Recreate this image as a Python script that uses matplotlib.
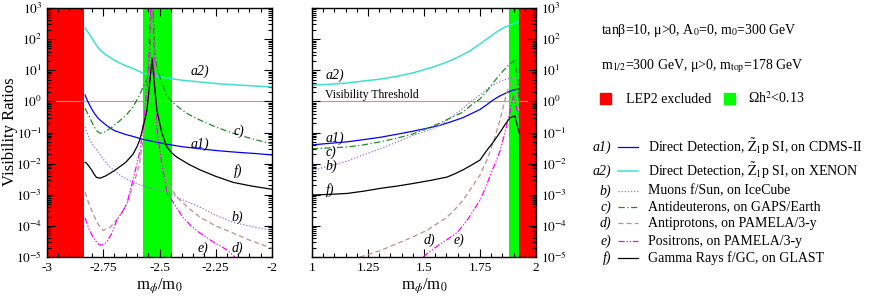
import numpy as np
import matplotlib
matplotlib.use("Agg")
import matplotlib.pyplot as plt
from matplotlib.ticker import FixedLocator, LogLocator, FuncFormatter, NullFormatter

plt.rcParams['font.family'] = ['Liberation Serif', 'DejaVu Serif']
plt.rcParams['mathtext.fontset'] = 'stix'
plt.rcParams['axes.unicode_minus'] = False

# ---- left panel data (m_phi/m_0 < 0) ----
a2_l_x = [-2.831, -2.82, -2.809, -2.798, -2.787, -2.775, -2.764, -2.74, -2.72, -2.70, -2.676, -2.65,
          -2.62, -2.573, -2.52, -2.467, -2.40, -2.32, -2.24, -2.15, -2.07, -2.0]
a2_l_y = [230, 175, 135, 100, 75, 57, 45, 32, 26, 21, 17, 14,
          11.5, 8.1, 6.6, 5.6, 4.8, 4.2, 3.7, 3.35, 3.1, 2.9]

a1_l_x = [-2.831, -2.82, -2.809, -2.798, -2.787, -2.775, -2.764, -2.74, -2.72, -2.70, -2.676, -2.65,
          -2.618, -2.573, -2.52, -2.467, -2.40, -2.32, -2.24, -2.15, -2.07, -2.0]
a1_l_y = [1.6, 1.05, 0.72, 0.52, 0.39, 0.3, 0.25, 0.18, 0.14, 0.115, 0.1, 0.086,
          0.075, 0.06, 0.05, 0.042, 0.035, 0.03, 0.026, 0.023, 0.021, 0.019]

b_l_x = [-2.831, -2.82, -2.809, -2.795, -2.778, -2.75, -2.72, -2.67, -2.618, -2.55, -2.467, -2.40,
         -2.32, -2.25, -2.173, -2.09, -2.0]
b_l_y = [0.15, 0.09, 0.057, 0.038, 0.027, 0.014, 0.0077, 0.004, 0.0025, 0.0017, 0.0012, 7e-4,
         4e-4, 2.2e-4, 1.3e-4, 9.5e-5, 7.2e-5]

c_l_x = [-2.831, -2.82, -2.81, -2.80, -2.79, -2.777, -2.764, -2.75, -2.73, -2.71, -2.689, -2.65, -2.618,
         -2.59, -2.573, -2.551, -2.542, -2.536, -2.53, -2.522, -2.511, -2.49, -2.467, -2.44, -2.41,
         -2.37, -2.32, -2.25, -2.173, -2.09, -2.0]
c_l_y = [0.6, 0.42, 0.3, 0.21, 0.15, 0.11, 0.095, 0.097, 0.12, 0.15, 0.2, 0.35, 0.66,
         1.5, 2.9, 6, 40, 3000, 3000, 40, 12, 4, 1.5, 0.9, 0.6,
         0.38, 0.25, 0.15, 0.095, 0.063, 0.043]

d_l_x = [-2.831, -2.815, -2.796, -2.775, -2.751, -2.72, -2.689, -2.665, -2.644, -2.618, -2.6, -2.587,
         -2.568, -2.552, -2.542, -2.536, -2.53, -2.522, -2.512, -2.49, -2.467, -2.42, -2.37, -2.32,
         -2.25, -2.173, -2.1, -2.0]
d_l_y = [1.2e-3, 5.5e-4, 2.5e-4, 1.2e-4, 7.2e-5, 9e-5, 1.6e-4, 2.8e-4, 5.4e-4, 2e-3, 5e-3, 0.012,
         0.1, 3, 200, 3000, 3000, 5, 0.1, 0.01, 2.5e-3, 8e-4, 3.7e-4, 1.9e-4,
         1e-4, 5.9e-5, 3.5e-5, 1.9e-5]

e_l_x = [-2.831, -2.815, -2.796, -2.78, -2.764, -2.75, -2.735, -2.711, -2.689, -2.665, -2.644, -2.618,
         -2.6, -2.587, -2.568, -2.552, -2.542, -2.536, -2.53, -2.522, -2.51, -2.49, -2.467, -2.43,
         -2.396, -2.36, -2.32, -2.26, -2.2, -2.15, -2.0]
e_l_y = [1.8e-4, 8.5e-5, 4.4e-5, 3e-5, 2.4e-5, 2.5e-5, 3e-5, 5.9e-5, 1.6e-4, 2.8e-4, 5.4e-4, 3e-3,
         1e-2, 0.025, 0.3, 5, 300, 3000, 3000, 5, 0.1, 0.01, 1.2e-3, 4.5e-4,
         1.9e-4, 1e-4, 5.9e-5, 3e-5, 1.7e-5, 8e-6, 2e-6]

f_l_x = [-2.831, -2.825, -2.815, -2.80, -2.79, -2.78, -2.764, -2.74, -2.70, -2.65, -2.618, -2.60, -2.587,
         -2.573, -2.556, -2.545, -2.533, -2.522, -2.511, -2.49, -2.467, -2.445, -2.422, -2.37, -2.32,
         -2.25, -2.173, -2.09, -2.0]
f_l_y = [0.011, 0.0105, 0.0085, 0.006, 0.0045, 0.0036, 0.0034, 0.004, 0.006, 0.011, 0.02, 0.035, 0.06,
         0.15, 0.5, 3, 25, 3, 0.5, 0.1, 0.034, 0.022, 0.016, 0.0095, 0.0063,
         0.0039, 0.0025, 0.0019, 0.0015]

# ---- right panel data (m_phi/m_0 > 0) ----
a2_r_x = [1.0, 1.08, 1.156, 1.23, 1.304, 1.38, 1.45, 1.53, 1.6, 1.65, 1.70, 1.74, 1.78, 1.81, 1.84,
          1.862, 1.884, 1.905, 1.92]
a2_r_y = [3.3, 3.55, 3.9, 4.5, 5.2, 6.4, 8.2, 12, 18, 26, 40, 62, 100, 145, 200,
          245, 283, 325, 355]

a1_r_x = [1.0, 1.08, 1.156, 1.23, 1.304, 1.38, 1.451, 1.52, 1.571, 1.62, 1.674, 1.71, 1.75, 1.78,
          1.808, 1.835, 1.862, 1.897, 1.924]
a1_r_y = [0.04, 0.045, 0.05, 0.059, 0.07, 0.088, 0.11, 0.14, 0.17, 0.22, 0.3, 0.4, 0.55, 0.78,
          1.1, 1.45, 1.8, 2.3, 2.5]

b_r_x = [1.0, 1.08, 1.156, 1.23, 1.304, 1.38, 1.451, 1.52, 1.571, 1.62, 1.674, 1.71, 1.75, 1.78,
         1.808, 1.85, 1.884, 1.924]
b_r_y = [6e-3, 8.5e-3, 0.012, 0.019, 0.03, 0.05, 0.08, 0.12, 0.17, 0.3, 0.6, 1.0, 1.6, 2.4,
         3.4, 4.7, 5.6, 5]

c_r_x = [1.0, 1.08, 1.156, 1.23, 1.304, 1.38, 1.451, 1.52, 1.571, 1.62, 1.674, 1.71, 1.75, 1.78,
         1.808, 1.84, 1.875, 1.906, 1.918, 1.924]
c_r_y = [0.03, 0.032, 0.034, 0.04, 0.05, 0.066, 0.09, 0.14, 0.2, 0.3, 0.45, 0.75, 1.2, 2.1,
         3.9, 7.5, 14, 21, 5, 1]

d_r_x = [1.214, 1.26, 1.304, 1.38, 1.45, 1.513, 1.56, 1.603, 1.64, 1.674, 1.71, 1.75, 1.781, 1.81,
         1.839, 1.87, 1.90, 1.924]
d_r_y = [1e-5, 1.25e-5, 1.6e-5, 2.7e-5, 4.4e-5, 7.2e-5, 1.2e-4, 1.9e-4, 3.5e-4, 6.7e-4, 1.6e-3, 4.3e-3,
         0.013, 0.05, 0.25, 2, 6, 0.5]

e_r_x = [1.496, 1.55, 1.60, 1.647, 1.675, 1.70, 1.725, 1.75, 1.775, 1.80, 1.82, 1.839, 1.858, 1.875,
         1.90, 1.924]
e_r_y = [1e-5, 2e-5, 3.5e-5, 6e-5, 1.05e-4, 1.8e-4, 3.5e-4, 6.7e-4, 1.7e-3, 5e-3, 1.1e-2, 0.025, 0.08,
         0.25, 1.5, 0.3]

f_r_x = [1.0, 1.08, 1.156, 1.23, 1.304, 1.38, 1.451, 1.53, 1.603, 1.64, 1.674, 1.71, 1.75, 1.781,
         1.81, 1.839, 1.862, 1.884, 1.906, 1.924]
f_r_y = [9.8e-4, 1.03e-3, 1.1e-3, 1.3e-3, 1.6e-3, 1.9e-3, 2.3e-3, 2.9e-3, 3.7e-3, 4.8e-3, 6.3e-3,
         8.8e-3, 0.013, 0.027, 0.05, 0.1, 0.18, 0.3, 0.34, 0.1]

# excluded / relic regions
red_left = (-3.0, -2.835)
green_left = (-2.573, -2.445)
green_right = (1.879, 1.924)
red_right = (1.924, 2.0)

styles = {
    'a1': dict(color='#0000ff', ls='-', lw=0.9),
    'a2': dict(color='#40e0d0', ls='-', lw=1.1),
    'b': dict(color='#9370db', ls=(0, (1, 1.5)), lw=0.9),
    'c': dict(color='#228b22', ls=(0, (5, 2, 1, 2)), lw=0.9),
    'd': dict(color='#bc8f8f', ls=(0, (4, 2.5)), lw=0.9),
    'e': dict(color='#ff00ff', ls=(0, (5, 1.5, 1, 1.5, 1, 1.5)), lw=0.9),
    'f': dict(color='black', ls='-', lw=0.9),
}

fig = plt.figure(figsize=(8.72, 2.98), dpi=100)
ax1 = fig.add_axes([47 / 872, 1 - 257 / 298, 225 / 872, 249 / 298])
ax2 = fig.add_axes([312 / 872, 1 - 257 / 298, 224 / 872, 249 / 298])


def decade(v, pos):
    return r'$10^{%d}$' % int(round(np.log10(v)))


for ax in (ax1, ax2):
    ax.set_yscale('log')
    ax.set_ylim(1e-5, 1e3)
    ax.axhline(1.0, color='#f08080', lw=0.8, zorder=1)
    ax.yaxis.set_major_locator(LogLocator(base=10, numticks=20))
    ax.yaxis.set_minor_locator(LogLocator(base=10, subs=np.arange(2, 10), numticks=20))
    ax.yaxis.set_major_formatter(FuncFormatter(decade))
    ax.yaxis.set_minor_formatter(NullFormatter())
    ax.tick_params(which='both', direction='in', top=True, right=True, left=True, bottom=True,
                   labelsize=9.5, width=0.8)
    ax.tick_params(which='major', length=6)
    ax.tick_params(which='minor', length=3)
    for s in ax.spines.values():
        s.set_linewidth(1.0)
    ax.set_xlabel(r'm$_\phi$/m$_0$', fontsize=12, labelpad=2)

# left panel
ax1.axvspan(*red_left, color='#ff0000', lw=0, zorder=0)
ax1.axvspan(*green_left, color='#00ff00', lw=0, zorder=0)
ax1.plot(a2_l_x, a2_l_y, **styles['a2'])
ax1.plot(a1_l_x, a1_l_y, **styles['a1'])
ax1.plot(b_l_x, b_l_y, **styles['b'])
ax1.plot(c_l_x, c_l_y, **styles['c'])
ax1.plot(d_l_x, d_l_y, **styles['d'])
ax1.plot(e_l_x, e_l_y, **styles['e'])
ax1.plot(f_l_x, f_l_y, **styles['f'])
ax1.set_xlim(-3, -2)
ax1.xaxis.set_major_locator(FixedLocator([-3, -2.75, -2.5, -2.25, -2]))
ax1.xaxis.set_minor_locator(FixedLocator(np.arange(-3, -1.99, 0.05)))
ax1.xaxis.set_major_formatter(FuncFormatter(lambda v, p: '%g' % v))
fig.text(10 / 872, 1 - 132 / 298, 'Visibility Ratios', fontsize=12, rotation=90,
         ha='center', va='center')

lab = dict(fontsize=10, style='italic')
ax1.text(-2.36, 7.0, 'a2)', **lab)
ax1.text(-2.17, 0.085, 'c)', **lab)
ax1.text(-2.36, 0.033, 'a1)', **lab)
ax1.text(-2.17, 4.5e-3, 'f)', **lab)
ax1.text(-2.18, 1.5e-4, 'b)', **lab)
ax1.text(-2.33, 1.5e-5, 'e)', **lab)
ax1.text(-2.18, 1.5e-5, 'd)', **lab)

# right panel
ax2.axvspan(*green_right, color='#00ff00', lw=0, zorder=0)
ax2.axvspan(*red_right, color='#ff0000', lw=0, zorder=0)
ax2.plot(a2_r_x, a2_r_y, **styles['a2'])
ax2.plot(a1_r_x, a1_r_y, **styles['a1'])
ax2.plot(b_r_x, b_r_y, **styles['b'])
ax2.plot(c_r_x, c_r_y, **styles['c'])
ax2.plot(d_r_x, d_r_y, **styles['d'])
ax2.plot(e_r_x, e_r_y, **styles['e'])
ax2.plot(f_r_x, f_r_y, **styles['f'])
ax2.set_xlim(1, 2)
ax2.xaxis.set_major_locator(FixedLocator([1, 1.25, 1.5, 1.75, 2]))
ax2.xaxis.set_minor_locator(FixedLocator(np.arange(1, 2.01, 0.05)))
ax2.xaxis.set_major_formatter(FuncFormatter(lambda v, p: '%g' % v))
ax2.tick_params(axis='y', labelleft=False, labelright=True)

ax2.text(1.06, 5.5, 'a2)', **lab)
ax2.text(1.06, 1.3, 'Visibility Threshold', fontsize=8.5)
ax2.text(1.06, 0.05, 'a1)', **lab)
ax2.text(1.06, 0.018, 'c)', **lab)
ax2.text(1.06, 0.0065, 'b)', **lab)
ax2.text(1.06, 1.1e-3, 'f)', **lab)
ax2.text(1.50, 2.6e-5, 'd)', **lab)
ax2.text(1.63, 2.6e-5, 'e)', **lab)

# legend / annotations on the right
fs = 10
fig.text(601 / 872, 1 - 34 / 298, r'tanβ=10, μ>0, A$_{\mathrm{0}}$=0, m$_{\mathrm{0}}$=300 GeV', fontsize=fs)
fig.text(601 / 872, 1 - 69 / 298, r'm$_{\mathrm{1/2}}$=300 GeV, μ>0, m$_{\mathrm{top}}$=178 GeV', fontsize=fs)
fig.patches.append(plt.Rectangle((600 / 872, 1 - 104 / 298), 11 / 872, 11 / 298,
                                 transform=fig.transFigure, color='#ff0000'))
fig.text(626 / 872, 1 - 103 / 298, 'LEP2 excluded', fontsize=fs)
fig.patches.append(plt.Rectangle((724 / 872, 1 - 104 / 298), 11 / 872, 11 / 298,
                                 transform=fig.transFigure, color='#00ff00'))
fig.text(748 / 872, 1 - 103 / 298, r'Ωh$^{\mathrm{2}}$<0.13', fontsize=fs)

entries = [
    ('a1', 'a1)', r'Direct Detection, $\mathrm{\tilde{Z}_1}$p SI, on CDMS-II', 147),
    ('a2', 'a2)', r'Direct Detection, $\mathrm{\tilde{Z}_1}$p SI, on XENON', 171),
    ('b', 'b)', 'Muons f/Sun, on IceCube', 191),
    ('c', 'c)', 'Antideuterons, on GAPS/Earth', 207),
    ('d', 'd)', 'Antiprotons, on PAMELA/3-y', 223),
    ('e', 'e)', 'Positrons, on PAMELA/3-y', 241),
    ('f', 'f)', 'Gamma Rays f/GC, on GLAST', 258),
]
for key, tag, desc, ypx in entries:
    yf = 1 - ypx / 298
    fig.text(611 / 872, yf, tag, fontsize=fs, style='italic', ha='right', va='center')
    fig.lines.append(plt.Line2D([618 / 872, 638 / 872], [yf, yf], transform=fig.transFigure,
                                **styles[key]))
    fig.text(648 / 872, yf, desc, fontsize=fs, va='center')

fig.savefig('out.png', dpi=100)
